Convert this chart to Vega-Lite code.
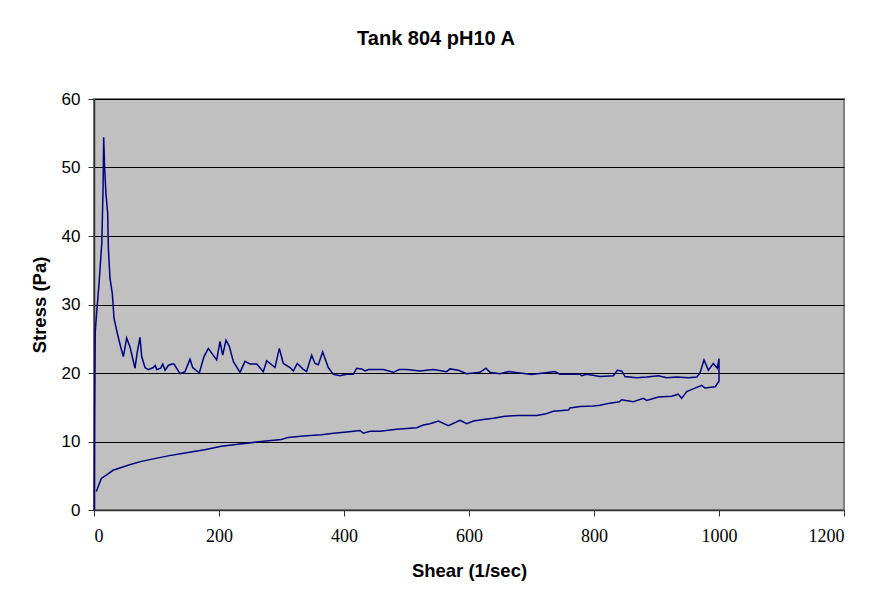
{
  "$schema": "https://vega.github.io/schema/vega-lite/v6.json",
  "width": 750,
  "height": 411,
  "autosize": "none",
  "padding": {"left": 94, "top": 99, "right": 26, "bottom": 92},
  "background": "white",
  "title": {"text": "Tank 804 pH10 A", "font": "Liberation Sans", "fontSize": 20, "fontWeight": "bold", "color": "black", "anchor": "middle", "dx": -33, "baseline": "bottom", "offset": 21, "frame": "group"},
  "config": {
    "view": {"fill": "#C0C0C0", "stroke": "#808080", "strokeWidth": 2},
    "axis": {"labelFont": "Liberation Sans", "labelFontSize": 17, "labelColor": "black", "titleFont": "Liberation Sans", "titleFontSize": 18.5, "titleFontWeight": "bold", "titleColor": "black", "domainColor": "#333333", "domainWidth": 1.5, "tickColor": "#333333", "tickSize": 6, "tickWidth": 1}
  },
  "data": {"values": [
    {"i":1,"shear":0.5,"stress":0},
    {"i":2,"shear":1,"stress":14},
    {"i":3,"shear":2,"stress":26},
    {"i":4,"shear":4,"stress":28.5},
    {"i":5,"shear":8,"stress":33},
    {"i":6,"shear":12.5,"stress":39},
    {"i":7,"shear":14.5,"stress":47},
    {"i":8,"shear":15.5,"stress":54.4},
    {"i":9,"shear":17,"stress":50},
    {"i":10,"shear":19,"stress":46.3},
    {"i":11,"shear":21.9,"stress":43.3},
    {"i":12,"shear":23,"stress":38.2},
    {"i":13,"shear":25.6,"stress":33.8},
    {"i":14,"shear":29.3,"stress":31.6},
    {"i":15,"shear":32,"stress":28},
    {"i":16,"shear":37.3,"stress":25.8},
    {"i":17,"shear":42.7,"stress":23.8},
    {"i":18,"shear":47,"stress":22.4},
    {"i":19,"shear":52.3,"stress":25.1},
    {"i":20,"shear":57.6,"stress":23.8},
    {"i":21,"shear":65.6,"stress":20.7},
    {"i":22,"shear":69.3,"stress":23.1},
    {"i":23,"shear":73.6,"stress":25.2},
    {"i":24,"shear":76.3,"stress":22.4},
    {"i":25,"shear":81.6,"stress":20.8},
    {"i":26,"shear":87,"stress":20.5},
    {"i":27,"shear":94.9,"stress":20.8},
    {"i":28,"shear":98,"stress":21.1},
    {"i":29,"shear":100.3,"stress":20.5},
    {"i":30,"shear":106.7,"stress":20.7},
    {"i":31,"shear":110,"stress":21.3},
    {"i":32,"shear":113.7,"stress":20.4},
    {"i":33,"shear":119,"stress":21.1},
    {"i":34,"shear":124.3,"stress":21.3},
    {"i":35,"shear":128,"stress":21.3},
    {"i":36,"shear":137.6,"stress":19.9},
    {"i":37,"shear":145.6,"stress":20.2},
    {"i":38,"shear":153.6,"stress":22.0},
    {"i":39,"shear":157.9,"stress":20.8},
    {"i":40,"shear":168.5,"stress":20.0},
    {"i":41,"shear":176,"stress":22.4},
    {"i":42,"shear":182.9,"stress":23.6},
    {"i":43,"shear":188.3,"stress":22.9},
    {"i":44,"shear":196.3,"stress":21.9},
    {"i":45,"shear":201.6,"stress":24.6},
    {"i":46,"shear":205.9,"stress":22.6},
    {"i":47,"shear":211.2,"stress":24.8},
    {"i":48,"shear":216.5,"stress":23.9},
    {"i":49,"shear":222.9,"stress":21.7},
    {"i":50,"shear":233.6,"stress":20.1},
    {"i":51,"shear":241.6,"stress":21.7},
    {"i":52,"shear":249.6,"stress":21.3},
    {"i":53,"shear":260.3,"stress":21.3},
    {"i":54,"shear":270.9,"stress":20.2},
    {"i":55,"shear":276.3,"stress":21.8},
    {"i":56,"shear":289.6,"stress":20.8},
    {"i":57,"shear":296.5,"stress":23.6},
    {"i":58,"shear":302.9,"stress":21.4},
    {"i":59,"shear":313.6,"stress":20.8},
    {"i":60,"shear":318.9,"stress":20.3},
    {"i":61,"shear":325.3,"stress":21.4},
    {"i":62,"shear":334,"stress":20.6},
    {"i":63,"shear":340,"stress":20.2},
    {"i":64,"shear":348.3,"stress":22.6},
    {"i":65,"shear":353.6,"stress":21.4},
    {"i":66,"shear":358.9,"stress":21.2},
    {"i":67,"shear":365.9,"stress":23.1},
    {"i":68,"shear":369.6,"stress":22.1},
    {"i":69,"shear":374.9,"stress":20.8},
    {"i":70,"shear":382.9,"stress":19.8},
    {"i":71,"shear":393.6,"stress":19.6},
    {"i":72,"shear":404.3,"stress":19.8},
    {"i":73,"shear":415,"stress":19.8},
    {"i":74,"shear":420.3,"stress":20.7},
    {"i":75,"shear":428.3,"stress":20.6},
    {"i":76,"shear":433.6,"stress":20.3},
    {"i":77,"shear":439,"stress":20.5},
    {"i":78,"shear":452,"stress":20.5},
    {"i":79,"shear":462.9,"stress":20.5},
    {"i":80,"shear":478.9,"stress":20.1},
    {"i":81,"shear":488.5,"stress":20.5},
    {"i":82,"shear":500.3,"stress":20.5},
    {"i":83,"shear":521.6,"stress":20.3},
    {"i":84,"shear":543,"stress":20.5},
    {"i":85,"shear":564.3,"stress":20.2},
    {"i":86,"shear":569.6,"stress":20.6},
    {"i":87,"shear":582.9,"stress":20.4},
    {"i":88,"shear":596.3,"stress":19.9},
    {"i":89,"shear":617.6,"stress":20.1},
    {"i":90,"shear":627.2,"stress":20.7},
    {"i":91,"shear":633.6,"stress":20.1},
    {"i":92,"shear":649.6,"stress":19.9},
    {"i":93,"shear":663,"stress":20.2},
    {"i":94,"shear":681.6,"stress":20.0},
    {"i":95,"shear":700.3,"stress":19.8},
    {"i":96,"shear":719,"stress":20.0},
    {"i":97,"shear":737.6,"stress":20.2},
    {"i":98,"shear":745.6,"stress":19.8},
    {"i":99,"shear":777.6,"stress":19.8},
    {"i":100,"shear":780.3,"stress":19.6},
    {"i":101,"shear":788.3,"stress":19.8},
    {"i":102,"shear":809.6,"stress":19.5},
    {"i":103,"shear":831,"stress":19.6},
    {"i":104,"shear":837.3,"stress":20.4},
    {"i":105,"shear":844.3,"stress":20.3},
    {"i":106,"shear":849.6,"stress":19.5},
    {"i":107,"shear":868.3,"stress":19.3},
    {"i":108,"shear":884.3,"stress":19.4},
    {"i":109,"shear":903,"stress":19.6},
    {"i":110,"shear":916.3,"stress":19.3},
    {"i":111,"shear":932.3,"stress":19.4},
    {"i":112,"shear":951,"stress":19.3},
    {"i":113,"shear":964.3,"stress":19.4},
    {"i":114,"shear":969.6,"stress":20.0},
    {"i":115,"shear":976,"stress":21.9},
    {"i":116,"shear":983,"stress":20.4},
    {"i":117,"shear":990.9,"stress":21.4},
    {"i":118,"shear":997.3,"stress":20.7},
    {"i":119,"shear":1000,"stress":22.1},
    {"i":120,"shear":1000,"stress":18.8},
    {"i":121,"shear":994,"stress":18.0},
    {"i":122,"shear":977.6,"stress":17.8},
    {"i":123,"shear":972.3,"stress":18.2},
    {"i":124,"shear":961.6,"stress":17.8},
    {"i":125,"shear":948.3,"stress":17.3},
    {"i":126,"shear":940.3,"stress":16.3},
    {"i":127,"shear":935,"stress":16.9},
    {"i":128,"shear":924.3,"stress":16.6},
    {"i":129,"shear":903,"stress":16.5},
    {"i":130,"shear":884.3,"stress":16.0},
    {"i":131,"shear":879,"stress":16.3},
    {"i":132,"shear":863,"stress":15.8},
    {"i":133,"shear":844.3,"stress":16.1},
    {"i":134,"shear":840.6,"stress":15.8},
    {"i":135,"shear":825.6,"stress":15.6},
    {"i":136,"shear":809.6,"stress":15.3},
    {"i":137,"shear":799,"stress":15.2},
    {"i":138,"shear":777.6,"stress":15.1},
    {"i":139,"shear":761.6,"stress":14.9},
    {"i":140,"shear":759,"stress":14.6},
    {"i":141,"shear":735,"stress":14.4},
    {"i":142,"shear":721.6,"stress":14.0},
    {"i":143,"shear":708.3,"stress":13.8},
    {"i":144,"shear":679,"stress":13.8},
    {"i":145,"shear":657.6,"stress":13.7},
    {"i":146,"shear":639,"stress":13.4},
    {"i":147,"shear":623,"stress":13.2},
    {"i":148,"shear":607,"stress":13.0},
    {"i":149,"shear":596.3,"stress":12.6},
    {"i":150,"shear":585.6,"stress":13.1},
    {"i":151,"shear":567,"stress":12.3},
    {"i":152,"shear":551,"stress":13.0},
    {"i":153,"shear":537.6,"stress":12.6},
    {"i":154,"shear":527,"stress":12.4},
    {"i":155,"shear":516.3,"stress":12.0},
    {"i":156,"shear":484.3,"stress":11.8},
    {"i":157,"shear":457.6,"stress":11.5},
    {"i":158,"shear":441.6,"stress":11.5},
    {"i":159,"shear":431,"stress":11.2},
    {"i":160,"shear":425.6,"stress":11.6},
    {"i":161,"shear":404.3,"stress":11.4},
    {"i":162,"shear":383,"stress":11.2},
    {"i":163,"shear":364.2,"stress":11.0},
    {"i":164,"shear":334.9,"stress":10.8},
    {"i":165,"shear":310.9,"stress":10.6},
    {"i":166,"shear":299.7,"stress":10.3},
    {"i":167,"shear":267.7,"stress":10.0},
    {"i":168,"shear":230.4,"stress":9.6},
    {"i":169,"shear":203.7,"stress":9.3},
    {"i":170,"shear":177,"stress":8.8},
    {"i":171,"shear":150.4,"stress":8.4},
    {"i":172,"shear":118.4,"stress":7.9},
    {"i":173,"shear":97,"stress":7.5},
    {"i":174,"shear":75.7,"stress":7.1},
    {"i":175,"shear":57,"stress":6.6},
    {"i":176,"shear":43.7,"stress":6.2},
    {"i":177,"shear":30.4,"stress":5.8},
    {"i":178,"shear":19.7,"stress":5.1},
    {"i":179,"shear":11.7,"stress":4.6},
    {"i":180,"shear":3.7,"stress":2.7}
  ]},
  "mark": {"type": "line", "color": "#000080", "strokeWidth": 1.5},
  "encoding": {
    "x": {"field": "shear", "type": "quantitative", "title": "Shear (1/sec)",
      "scale": {"domain": [0, 1200], "nice": false},
      "axis": {"values": [0, 200, 400, 600, 800, 1000, 1200], "format": "d", "grid": false, "labelFont": "Liberation Sans Narrow", "labelFontSize": 18, "labelPadding": 11, "titlePadding": 16}},
    "y": {"field": "stress", "type": "quantitative", "title": "Stress (Pa)",
      "scale": {"domain": [0, 60], "nice": false},
      "axis": {"values": [0, 10, 20, 30, 40, 50, 60], "format": "d", "grid": true, "gridColor": "black", "gridWidth": 1, "labelPadding": 8, "titlePadding": 12}},
    "order": {"field": "i", "type": "quantitative"}
  }
}
